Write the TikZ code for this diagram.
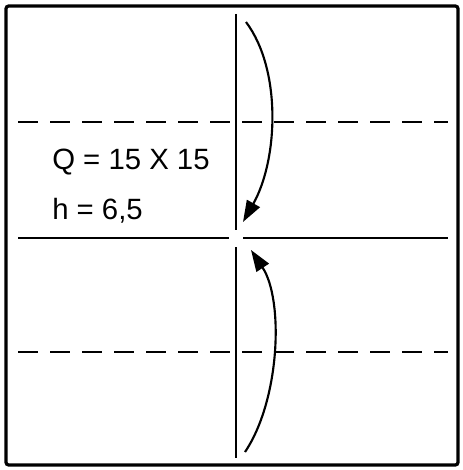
\documentclass[tikz,border=0pt]{standalone}
\usepackage{fontspec}
\setmainfont{Liberation Sans}
\usetikzlibrary{arrows.meta,positioning,calc}

\tikzset{
  sheet/.style={line width=2.4pt, rounded corners=2pt},
  crease/.style={line width=0.9pt},
  fold/.style={line width=1.3pt, dash pattern=on 15pt off 9pt},
  flip/.style={line width=1.6pt, -{Triangle[length=16pt, width=11pt]}},
  label/.style={anchor=base west, inner sep=0pt, font=\fontsize{22}{26}\selectfont}
}

\begin{document}
\begin{tikzpicture}[x=0.75pt, y=-0.75pt]
    \useasboundingbox (0,0) rectangle (462,470);
    % Nodes
    \coordinate (tl) at (6,6);
    \coordinate (br) at (458,465);
    \coordinate (vtop) at (236,14);
    \coordinate (vmidA) at (236,230);
    \coordinate (vmidB) at (236,247);
    \coordinate (vbot) at (236,458);
    \coordinate (hleft) at (18,238);
    \coordinate (hgapA) at (229,238);
    \coordinate (hgapB) at (243,238);
    \coordinate (hright) at (448,238);
    \coordinate (upleft) at (18,122);
    \coordinate (upright) at (448,122);
    \coordinate (lowleft) at (18,352);
    \coordinate (lowright) at (448,352);
    \coordinate (topstart) at (246,22);
    \coordinate (toptip) at (243,222);
    \coordinate (botstart) at (245,452);
    \coordinate (bottip) at (251,250);
    \node[label] (size) at (52,170) {Q = 15 X 15};
    \node[label] (height) at (52,219) {h = 6,5};

    % Paths
    \draw[sheet] (tl) rectangle (br);
    \draw[crease] (vtop) -- (vmidA);
    \draw[crease] (vmidB) -- (vbot);
    \draw[crease] (hleft) -- (hgapA);
    \draw[crease] (hgapB) -- (hright);
    \draw[fold] (upleft) -- (upright);
    \draw[fold] (lowleft) -- (lowright);
    \draw[flip] (topstart) .. controls (282,70) and (278,160) .. (toptip);
    \draw[flip] (botstart) .. controls (280,400) and (284,300) .. (bottip);
\end{tikzpicture}
\end{document}
